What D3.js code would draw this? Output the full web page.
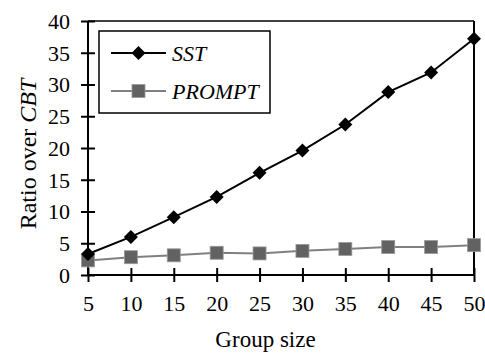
<!DOCTYPE html>
<html>
<head>
<meta charset="utf-8">
<script src="https://cdn.jsdelivr.net/npm/d3@7"></script>
<style>
  body { margin: 0; background: #fff; }
  text { font-family: "Liberation Serif", "Times New Roman", serif; fill: #000; }
</style>
</head>
<body>
<div id="chart"></div>
<script>
// data
var groupSizes = [5, 10, 15, 20, 25, 30, 35, 40, 45, 50];
var sstValues = [3.3, 6.0, 9.1, 12.3, 16.1, 19.6, 23.7, 28.8, 31.9, 37.2];
var promptValues = [2.3, 2.8, 3.1, 3.5, 3.4, 3.8, 4.1, 4.4, 4.4, 4.7];
var yTicks = [0, 5, 10, 15, 20, 25, 30, 35, 40];

var svgWidth = 485;
var svgHeight = 354;

var margin = { top: 21, right: 11, bottom: 79, left: 88 };
var width = svgWidth - margin.left - margin.right;
var height = svgHeight - margin.top - margin.bottom;

var svg = d3.select("#chart")
    .append("svg")
    .attr("width", svgWidth)
    .attr("height", svgHeight);

var chartGroup = svg.append("g")
    .attr("transform", `translate(${margin.left}, ${margin.top})`);

var xScale = d3.scaleLinear().domain([5, 50]).range([0, width]);
var yScale = d3.scaleLinear().domain([0, 40]).range([height, 0]);

// frame on top and right
chartGroup.append("line")
    .attr("x1", 0).attr("x2", width).attr("y1", 0).attr("y2", 0)
    .attr("stroke", "#000").attr("stroke-width", 1.5);
chartGroup.append("line")
    .attr("x1", width).attr("x2", width).attr("y1", 0).attr("y2", height)
    .attr("stroke", "#000").attr("stroke-width", 2);

// axes with ticks crossing the line
var bottomAxis = d3.axisBottom(xScale).tickValues(groupSizes).tickSize(7).tickPadding(13).tickFormat(d3.format("d"));
var leftAxis = d3.axisLeft(yScale).tickValues(yTicks).tickSize(7).tickPadding(11).tickFormat(d3.format("d"));

var xAxis = chartGroup.append("g")
    .attr("transform", `translate(0, ${height})`)
    .call(bottomAxis);
var yAxis = chartGroup.append("g")
    .call(leftAxis);

[xAxis, yAxis].forEach(function(ax) {
    ax.attr("font-family", null).attr("font-size", null);
    ax.select(".domain").attr("stroke", "#000").attr("stroke-width", 2);
    ax.selectAll(".tick line").attr("stroke", "#000").attr("stroke-width", 2);
    ax.selectAll("text").style("font-size", "22px");
});
xAxis.selectAll(".tick line").attr("y1", -7).attr("y2", 7);
yAxis.selectAll(".tick line").attr("x1", 7).attr("x2", -7);
xAxis.select(".domain").attr("d", `M0,0H${width}`);
yAxis.select(".domain").attr("d", `M0,${height}V0`);
yAxis.selectAll(".tick text").attr("dy", "0.34em");

var lineGen = d3.line()
    .x(function(d, i) { return xScale(groupSizes[i]); })
    .y(function(d) { return yScale(d); });

// PROMPT series
chartGroup.append("path")
    .datum(promptValues)
    .attr("d", lineGen)
    .attr("fill", "none")
    .attr("stroke", "#808080")
    .attr("stroke-width", 2);

chartGroup.selectAll(".prompt")
    .data(promptValues)
    .enter()
    .append("rect")
    .attr("class", "prompt")
    .attr("x", function(d, i) { return xScale(groupSizes[i]) - 6.5; })
    .attr("y", function(d) { return yScale(d) - 6.5; })
    .attr("width", 13)
    .attr("height", 13)
    .attr("fill", "#626262")
    .attr("stroke", "#9a9a9a")
    .attr("stroke-width", 0.8);

// SST series
chartGroup.append("path")
    .datum(sstValues)
    .attr("d", lineGen)
    .attr("fill", "none")
    .attr("stroke", "#000")
    .attr("stroke-width", 2);

chartGroup.selectAll(".sst")
    .data(sstValues)
    .enter()
    .append("path")
    .attr("class", "sst")
    .attr("d", "M0,-7L7,0L0,7L-7,0Z")
    .attr("transform", function(d, i) { return `translate(${xScale(groupSizes[i])}, ${yScale(d)})`; })
    .attr("fill", "#000");

// legend
var legend = chartGroup.append("g")
    .attr("transform", "translate(11, 10)");
legend.append("rect")
    .attr("x", 0).attr("y", 0)
    .attr("width", 171).attr("height", 82)
    .attr("fill", "#fff")
    .attr("stroke", "#000")
    .attr("stroke-width", 1.5);

legend.append("line")
    .attr("x1", 12).attr("x2", 67).attr("y1", 22).attr("y2", 22)
    .attr("stroke", "#000").attr("stroke-width", 2);
legend.append("path")
    .attr("d", "M0,-7L7,0L0,7L-7,0Z")
    .attr("transform", "translate(39.5, 22)")
    .attr("fill", "#000");
legend.append("text")
    .attr("x", 73).attr("y", 22).attr("dy", "0.35em")
    .style("font-size", "22px").style("font-style", "italic")
    .text("SST");

legend.append("line")
    .attr("x1", 12).attr("x2", 67).attr("y1", 60).attr("y2", 60)
    .attr("stroke", "#808080").attr("stroke-width", 2);
legend.append("rect")
    .attr("x", 33).attr("y", 53.5).attr("width", 13).attr("height", 13)
    .attr("fill", "#626262").attr("stroke", "#9a9a9a").attr("stroke-width", 0.8);
legend.append("text")
    .attr("x", 73).attr("y", 60).attr("dy", "0.35em")
    .style("font-size", "22px").style("font-style", "italic")
    .text("PROMPT");

// axis titles
chartGroup.append("text")
    .attr("x", width / 2 - 15.5)
    .attr("y", height + 72)
    .attr("text-anchor", "middle")
    .style("font-size", "23px")
    .text("Group size");

var yTitle = chartGroup.append("text")
    .attr("transform", "rotate(-90)")
    .attr("x", -133)
    .attr("y", -52)
    .attr("text-anchor", "middle")
    .style("font-size", "24px");
yTitle.append("tspan").text("Ratio over ");
yTitle.append("tspan").style("font-style", "italic").text("CBT");
</script>
</body>
</html>
